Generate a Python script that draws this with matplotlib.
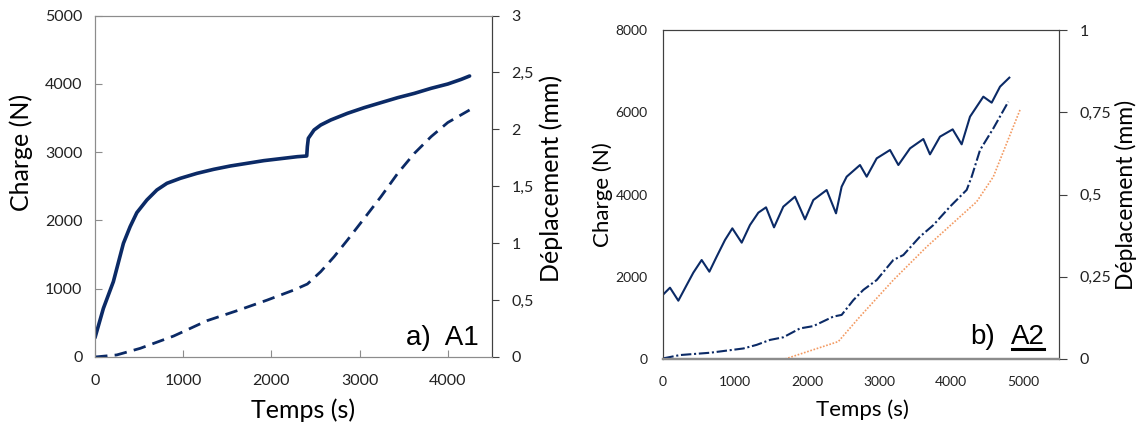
import matplotlib
matplotlib.use("Agg")
import matplotlib.pyplot as plt
from matplotlib.lines import Line2D
from matplotlib.ticker import FuncFormatter

# ---- a) A1 ----
a_t_charge = [0, 95, 208, 322, 398, 474, 588, 701, 815, 967, 1156, 1346, 1535, 1725,
              1914, 2104, 2293, 2400, 2407, 2418, 2483, 2559, 2672, 2862, 3052, 3241,
              3431, 3620, 3810, 3999, 4151, 4246]
a_charge = [283, 712, 1103, 1664, 1908, 2113, 2299, 2445, 2543, 2616, 2689, 2748, 2797, 2836,
            2875, 2904, 2933, 2943, 3080, 3202, 3324, 3397, 3470, 3568, 3651, 3724,
            3797, 3860, 3934, 3997, 4065, 4114]
a_t_depl = [0, 246, 512, 891, 1270, 1611, 1952, 2256, 2407, 2559, 2710, 2862, 3052, 3241,
            3431, 3620, 3810, 3999, 4246]
a_depl = [0.0, 0.018, 0.076, 0.184, 0.319, 0.407, 0.5, 0.589, 0.641, 0.75, 0.881, 1.028,
          1.218, 1.408, 1.613, 1.789, 1.936, 2.06, 2.17]

# ---- b) A2 ----
b_t_charge = [5, 97, 213, 329, 421, 537, 644, 745, 861, 963, 1093, 1208, 1324, 1431, 1542,
              1671, 1833, 1972, 2088, 2273, 2403, 2481, 2551, 2736, 2829, 2968, 3153, 3269,
              3431, 3616, 3708, 3847, 4023, 4148, 4264, 4449, 4565, 4681, 4810]
b_charge = [1572, 1734, 1418, 1799, 2099, 2407, 2123, 2488, 2894, 3177, 2829, 3258, 3558,
            3688, 3201, 3704, 3947, 3396, 3866, 4109, 3542, 4190, 4433, 4717, 4433, 4879,
            5082, 4717, 5122, 5349, 4976, 5406, 5584, 5220, 5892, 6379, 6233, 6622, 6841]
b_t_depl = [5, 236, 653, 1116, 1301, 1486, 1671, 1903, 2088, 2366, 2481, 2644, 2782, 2968,
            3199, 3338, 3569, 3755, 3986, 4218, 4287, 4403, 4588, 4796]
b_depl = [0.002, 0.012, 0.019, 0.032, 0.043, 0.058, 0.066, 0.093, 0.10, 0.129, 0.134, 0.179,
          0.21, 0.24, 0.301, 0.316, 0.372, 0.407, 0.463, 0.514, 0.554, 0.635, 0.701, 0.782]
b_t_ref = [1694, 2435, 2736, 3199, 3662, 4356, 4588, 4958]
b_ref = [0.0, 0.053, 0.129, 0.24, 0.341, 0.478, 0.554, 0.757]

NAVY = "#0b2a66"
ORANGE = "#f39a62"
GREY = "#8c8c8c"
DARK = "#404040"
FONT = "Lato"

plt.rcParams["font.family"] = [FONT, "DejaVu Sans"]


def comma(v, _):
    s = f"{v:g}"
    return s.replace(".", ",")


fig = plt.figure(figsize=(11.37, 4.28), dpi=100)

# ---------------- panel a ----------------
ax = fig.add_axes([95 / 1137, 1 - 357 / 428, 397 / 1137, 341.5 / 428])
ax2 = ax.twinx()
ax.plot(a_t_charge, a_charge, "-", color=NAVY, lw=2.6, solid_capstyle="round")
ax2.plot(a_t_depl, a_depl, color=NAVY, lw=2.0, linestyle=(0, (4.5, 2.6)))
ax.set_xlim(0, 4500); ax.set_ylim(0, 5000)
ax2.set_ylim(0, 3)
ax.set_xticks([0, 1000, 2000, 3000, 4000])
ax.set_yticks(range(0, 5001, 1000))
ax2.set_yticks([0, 0.5, 1, 1.5, 2, 2.5, 3])
ax2.yaxis.set_major_formatter(FuncFormatter(comma))
ax.tick_params(axis="both", direction="in", length=5, color=GREY, labelsize=11.5,
               labelcolor="#222", pad=9)
ax.tick_params(axis="x", pad=12)
ax2.tick_params(axis="y", direction="out", length=5, color=DARK, labelsize=11.5,
                labelcolor="#222", pad=9)
for a in (ax, ax2):
    for side in ("left", "bottom", "top"):
        a.spines[side].set_color(GREY)
    a.spines["right"].set_color(DARK)
ax.set_ylabel("Charge (N)", fontsize=18, va="center")
ax.yaxis.set_label_coords(-0.186, 0.6)
ax.set_xlabel("Temps (s)", fontsize=18, va="center")
ax.xaxis.set_label_coords(0.524, -0.155)
ax2.set_ylabel("Déplacement (mm)", fontsize=18, va="center")
ax2.yaxis.set_label_coords(1.149, 0.524)
ax2.text(0.967, 0.035, "a)  A1", transform=ax2.transAxes, ha="right", va="baseline",
         fontsize=20, family="Liberation Sans")

# ---------------- panel b ----------------
bx = fig.add_axes([663 / 1137, 1 - 359 / 428, 396 / 1137, 329 / 428])
bx2 = bx.twinx()
bx.plot(b_t_charge, b_charge, "-", color=NAVY, lw=1.5)
bx2.plot(b_t_depl, b_depl, color=NAVY, lw=1.5, linestyle=(0, (5, 1.3, 1, 1.3)))
bx2.plot(b_t_ref, b_ref, color=ORANGE, lw=1.2, linestyle=(0, (1, 1)))
bx.set_xlim(0, 5500); bx.set_ylim(0, 8000)
bx2.set_ylim(0, 1)
bx.set_xticks(range(0, 5001, 1000))
bx.set_yticks(range(0, 8001, 2000))
bx2.set_yticks([0, 0.25, 0.5, 0.75, 1])
bx2.yaxis.set_major_formatter(FuncFormatter(comma))
bx.tick_params(axis="both", length=0, labelsize=10, labelcolor="#222", pad=11)
bx.tick_params(axis="x", pad=12)
bx2.tick_params(axis="y", direction="out", length=6, color=DARK, labelsize=11.5,
                labelcolor="#222", pad=9)
for a in (bx, bx2):
    for side in ("left", "top", "right"):
        a.spines[side].set_color(DARK)
    a.spines["bottom"].set_color(GREY)
    a.spines["bottom"].set_linewidth(1.6)
bx.set_ylabel("Charge (N)", fontsize=16, va="center")
bx.yaxis.set_label_coords(-0.152, 0.5)
bx.set_xlabel("Temps (s)", fontsize=16, va="center")
bx.xaxis.set_label_coords(0.503, -0.155)
bx2.set_ylabel("Déplacement (mm)", fontsize=16.5, va="center")
bx2.yaxis.set_label_coords(1.169, 0.498)
lab = bx2.text(0.965, 0.045, "A2", transform=bx2.transAxes, ha="right", va="baseline",
               fontsize=20, family="Liberation Sans")
bx2.text(0.838, 0.045, "b)", transform=bx2.transAxes, ha="right", va="baseline",
         fontsize=20, family="Liberation Sans")

# underline under "A2", a little below its baseline
fig.canvas.draw()
bb = lab.get_window_extent(fig.canvas.get_renderer())
uy = bb.y0 + 1.0
fig.add_artist(Line2D([(bb.x0 + 1) / fig.bbox.width, (bb.x1 - 1) / fig.bbox.width],
                      [uy / fig.bbox.height, uy / fig.bbox.height],
                      transform=fig.transFigure, color="black", lw=2.2))

fig.savefig("out.png", dpi=100)
